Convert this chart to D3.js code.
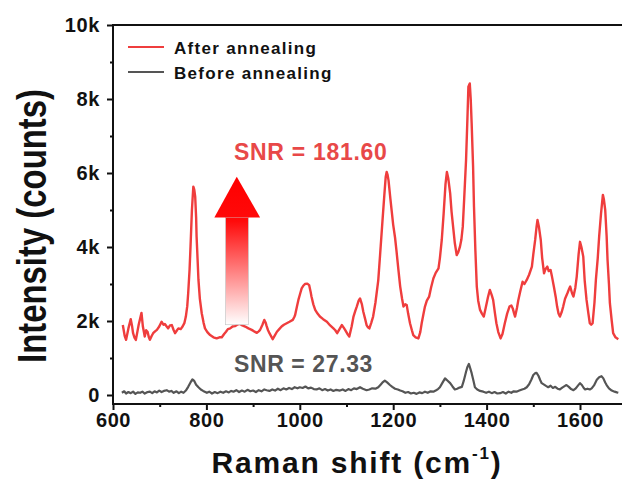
<!DOCTYPE html>
<html>
<head>
<meta charset="utf-8">
<script src="https://cdn.jsdelivr.net/npm/d3@7"></script>
<style>
  body { margin: 0; background: #fff; }
  svg { display: block; font-family: "Liberation Sans", Arial, sans-serif; font-weight: bold; }
</style>
</head>
<body>
<div id="chart"></div>
<script>
// spectra: [raman shift (cm-1), counts]
var afterSpectrum = [
  [621,1890],[625,1600],[628,1490],[633,1800],[638,2050],[641,1850],[643,1670],[646,1550],[649,1490],[655,1900],
  [661,2220],[664,1850],[668,1580],[671,1750],[674,1710],[677,1550],[679,1490],[683,1600],[686,1670],[690,1720],
  [694,1760],[699,1850],[704,1980],[708,1900],[711,1920],[715,1850],[718,1800],[722,1880],[726,1890],[730,1750],
  [733,1670],[737,1750],[740,1800],[745,1780],[749,1850],[753,1950],[756,2120],[759,2400],[761,2750],[764,3400],
  [766,4010],[769,5000],[772,5630],[774,5550],[776,5360],[778,4800],[779,4280],[781,3700],[783,3110],[786,2600],
  [790,2210],[794,1950],[797,1800],[802,1700],[808,1620],[815,1560],[822,1530],[828,1560],[833,1560],[838,1650],
  [842,1710],[846,1780],[851,1800],[856,1850],[861,1860],[866,1900],[872,1920],[877,1880],[883,1850],[890,1800],
  [897,1760],[902,1720],[908,1680],[912,1720],[915,1760],[920,1900],[924,2030],[927,1950],[929,1860],[932,1750],
  [935,1670],[939,1580],[942,1510],[946,1600],[951,1710],[956,1780],[961,1850],[966,1900],[972,1940],[978,1980],
  [985,2030],[988,2100],[990,2160],[994,2400],[997,2570],[1001,2750],[1004,2880],[1008,2960],[1011,3000],[1016,3010],
  [1020,2970],[1023,2800],[1025,2660],[1029,2450],[1033,2300],[1038,2200],[1043,2120],[1050,2050],[1058,1980],[1065,1880],
  [1072,1800],[1076,1750],[1080,1670],[1085,1780],[1090,1890],[1094,1820],[1097,1760],[1102,1650],[1106,1580],[1111,1850],
  [1115,2120],[1119,2280],[1122,2390],[1126,2550],[1129,2610],[1133,2450],[1136,2250],[1140,2050],[1143,1890],[1146,1830],
  [1149,1800],[1153,1950],[1157,2120],[1162,2500],[1168,3100],[1172,3800],[1177,4700],[1181,5400],[1184,5900],[1186,6030],
  [1188,5950],[1190,5800],[1194,5300],[1197,4950],[1200,4600],[1204,4250],[1207,3900],[1211,3400],[1215,2930],[1219,2600],
  [1222,2390],[1226,2450],[1229,2430],[1232,2200],[1236,1940],[1240,1750],[1243,1620],[1248,1560],[1254,1530],[1258,1700],
  [1261,1940],[1265,2200],[1268,2390],[1272,2550],[1277,2660],[1281,2900],[1286,3150],[1291,3300],[1297,3420],[1300,3700],
  [1304,4190],[1308,4900],[1312,5700],[1315,6030],[1318,5850],[1322,5450],[1325,4950],[1329,4460],[1332,4100],[1336,3780],
  [1339,3850],[1343,4010],[1346,4200],[1349,4550],[1352,5300],[1356,6350],[1359,7500],[1361,8330],[1364,8420],[1366,8000],
  [1368,7340],[1371,6200],[1373,5090],[1376,3900],[1379,2930],[1382,2550],[1386,2300],[1390,2200],[1394,2120],[1398,2350],
  [1403,2650],[1407,2840],[1411,2700],[1414,2570],[1418,2200],[1421,1940],[1425,1700],[1430,1530],[1434,1650],[1439,1940],
  [1444,2200],[1449,2390],[1453,2420],[1456,2340],[1459,2200],[1461,2120],[1465,2350],[1468,2570],[1472,2800],[1477,3060],
  [1481,3000],[1486,3110],[1491,3250],[1497,3470],[1500,3800],[1504,4190],[1507,4550],[1509,4730],[1512,4550],[1516,4190],
  [1519,3700],[1523,3290],[1526,3400],[1530,3470],[1533,3350],[1537,3380],[1540,3200],[1544,2930],[1548,2650],[1551,2390],
  [1554,2200],[1557,2120],[1561,2250],[1564,2390],[1568,2600],[1573,2750],[1576,2850],[1579,2930],[1583,2750],[1586,2660],
  [1590,2900],[1593,3200],[1597,3800],[1600,4140],[1603,4000],[1607,3740],[1610,3100],[1614,2570],[1618,2200],[1621,1940],
  [1624,1900],[1627,1940],[1631,2500],[1634,3110],[1638,3700],[1641,4280],[1645,4900],[1649,5410],[1651,5300],[1654,5000],
  [1657,4300],[1659,3650],[1662,3000],[1664,2480],[1668,2000],[1671,1670],[1676,1560],[1682,1510]
];

var beforeSpectrum = [
  [619,60],[624,100],[628,40],[633,80],[638,50],[643,90],[648,30],[653,70],[658,60],[663,90],
  [668,40],[674,80],[679,90],[684,50],[689,100],[694,70],[699,120],[704,80],[709,110],[715,130],
  [720,90],[725,110],[730,60],[736,100],[741,50],[746,90],[751,60],[756,120],[761,220],[766,340],
  [770,420],[774,380],[778,280],[783,210],[788,150],[793,110],[801,60],[806,90],[812,40],[818,80],
  [824,50],[830,90],[836,60],[842,100],[848,70],[853,110],[858,90],[864,130],[870,80],[876,120],
  [882,90],[888,140],[894,100],[900,120],[906,80],[912,130],[918,100],[924,150],[929,130],[935,110],
  [941,150],[947,120],[953,170],[959,130],[965,180],[971,150],[977,190],[983,160],[989,210],[995,180],
  [1000,210],[1006,190],[1012,230],[1018,180],[1024,200],[1030,160],[1036,150],[1042,180],[1048,130],[1054,160],
  [1060,120],[1066,150],[1072,110],[1078,140],[1086,120],[1092,150],[1098,110],[1104,160],[1110,130],[1116,180],
  [1122,160],[1129,210],[1135,170],[1143,130],[1149,150],[1155,180],[1162,170],[1168,210],[1173,280],[1178,350],
  [1182,390],[1187,340],[1193,270],[1198,220],[1204,170],[1210,150],[1215,120],[1220,100],[1226,60],[1232,80],
  [1238,40],[1244,60],[1250,30],[1256,70],[1262,50],[1268,90],[1274,60],[1280,100],[1286,90],[1292,130],
  [1296,160],[1300,210],[1305,320],[1311,450],[1316,390],[1322,320],[1327,230],[1332,150],[1337,170],[1342,200],
  [1347,220],[1351,380],[1356,630],[1359,760],[1362,840],[1365,720],[1368,590],[1372,380],[1375,210],[1380,150],
  [1386,110],[1393,90],[1399,60],[1405,90],[1411,50],[1417,80],[1423,40],[1429,50],[1435,80],[1441,40],
  [1447,90],[1453,60],[1458,100],[1464,90],[1470,120],[1476,150],[1481,170],[1486,210],[1491,290],[1496,420],
  [1500,540],[1504,590],[1507,600],[1511,520],[1515,400],[1518,320],[1523,280],[1528,240],[1532,210],[1537,250],
  [1542,190],[1547,220],[1552,170],[1557,150],[1562,200],[1567,240],[1571,270],[1576,220],[1581,160],[1586,130],
  [1591,180],[1596,260],[1600,320],[1604,270],[1608,190],[1611,150],[1616,170],[1621,150],[1625,180],[1630,260],
  [1636,410],[1641,480],[1646,510],[1650,450],[1654,340],[1657,270],[1662,180],[1668,120],[1674,90],[1679,70],
  [1682,60]
];

var xTicks = [600, 800, 1000, 1200, 1400, 1600];
var xMinorTicks = [700, 900, 1100, 1300, 1500];
var yTicks = [0, 2000, 4000, 6000, 8000, 10000];
var yMinorTicks = [1000, 3000, 5000, 7000, 9000];
var seriesNames = ["After annealing", "Before annealing"];
var snrLabels = ["SNR = 181.60", "SNR = 27.33"];

var W = 622, H = 485;
var red = "#ef3d3d", grey = "#555555";

var svg = d3.select("#chart").append("svg")
  .attr("width", W).attr("height", H);

var x = d3.scaleLinear().domain([600, 1700]).range([113, 626.7]);
var y = d3.scaleLinear().domain([-250, 10000]).range([404.25, 25]);

// arrow gradient
var defs = svg.append("defs");
var grad = defs.append("linearGradient").attr("id", "arrowGrad")
  .attr("gradientUnits", "userSpaceOnUse")
  .attr("x1", 0).attr("x2", 0)
  .attr("y1", y(5900)).attr("y2", y(1900));
grad.append("stop").attr("offset", "0%").attr("stop-color", "#ff0000");
grad.append("stop").attr("offset", "30%").attr("stop-color", "#ff0a0a");
grad.append("stop").attr("offset", "100%").attr("stop-color", "#ffffff");

// spectra
var line = d3.line().x(d => x(d[0])).y(d => y(d[1]));
svg.append("path").datum(beforeSpectrum)
  .attr("d", line).attr("fill", "none")
  .attr("stroke", grey).attr("stroke-width", 2.2).attr("stroke-linejoin", "round");
svg.append("path").datum(afterSpectrum)
  .attr("d", line).attr("fill", "none")
  .attr("stroke", red).attr("stroke-width", 2.4).attr("stroke-linejoin", "round");

// arrow (shaft + head)
svg.append("rect")
  .attr("x", x(841)).attr("y", y(4800))
  .attr("width", x(890) - x(841)).attr("height", y(1900) - y(4800))
  .attr("fill", "url(#arrowGrad)").attr("stroke", "#c8c8c8").attr("stroke-width", 0.7);
svg.append("path")
  .attr("d", "M" + x(817) + "," + y(4800) + "L" + x(865) + "," + y(5900) + "L" + x(915) + "," + y(4800) + "Z")
  .attr("fill", "url(#arrowGrad)");

// axes
var yAxis = d3.axisLeft(y).tickValues(yTicks).tickSize(6).tickPadding(7)
  .tickFormat(d => d == 0 ? "0" : (d / 1000) + "k");
var gy = svg.append("g").attr("transform", "translate(113,0)").call(yAxis);
var yMinor = d3.axisLeft(y).tickValues(yMinorTicks).tickSize(3).tickFormat("");
var gym = svg.append("g").attr("transform", "translate(113,0)").call(yMinor);

var xAxis = d3.axisBottom(x).tickValues(xTicks).tickSize(6).tickPadding(3).tickFormat(d3.format("d"));
var gx = svg.append("g").attr("transform", "translate(0,404)").call(xAxis);
var xMinor = d3.axisBottom(x).tickValues(xMinorTicks).tickSize(3).tickFormat("");
var gxm = svg.append("g").attr("transform", "translate(0,404)").call(xMinor);

[gy, gym, gx, gxm].forEach(function(g) {
  g.select(".domain").remove();
  g.selectAll("line").attr("stroke", "#111").attr("stroke-width", 2);
  g.selectAll("text").attr("fill", "#111").style("font-size", "20px")
    .style("font-weight", "bold").style("letter-spacing", "0.6px");
});

// frame lines
svg.append("line").attr("x1", 113).attr("x2", W).attr("y1", 404).attr("y2", 404)
  .attr("stroke", "#111").attr("stroke-width", 2);
svg.append("line").attr("x1", 113).attr("x2", W).attr("y1", 25).attr("y2", 25)
  .attr("stroke", "#111").attr("stroke-width", 2);
svg.append("line").attr("x1", 113).attr("x2", 113).attr("y1", 24).attr("y2", 405)
  .attr("stroke", "#111").attr("stroke-width", 2);

// axis titles
var xt = svg.append("text")
  .attr("x", 357).attr("y", 473)
  .attr("text-anchor", "middle")
  .attr("fill", "#111").style("font-size", "30px").style("letter-spacing", "1.8px");
xt.append("tspan").text("Raman shift (cm");
xt.append("tspan").attr("dy", -14).style("font-size", "17px").text("-1");
xt.append("tspan").attr("dy", 14).text(")");

svg.append("text")
  .attr("transform", "translate(46,226) rotate(-90)")
  .attr("text-anchor", "middle")
  .attr("textLength", 274).attr("lengthAdjust", "spacingAndGlyphs")
  .attr("fill", "#111").style("font-size", "41px")
  .text("Intensity (counts)");

// legend
var legend = svg.append("g");
legend.selectAll("line").data(seriesNames).enter().append("line")
  .attr("x1", 128).attr("x2", 164)
  .attr("y1", (d, i) => 47 + i * 25).attr("y2", (d, i) => 47 + i * 25)
  .attr("stroke", (d, i) => i == 0 ? red : grey).attr("stroke-width", 2);
legend.selectAll("text").data(seriesNames).enter().append("text")
  .attr("x", 174).attr("y", (d, i) => 54 + i * 25)
  .attr("fill", "#111").style("font-size", "17px").style("letter-spacing", "1.3px")
  .text(d => d);

// SNR labels
svg.append("text").attr("x", 234).attr("y", 160)
  .attr("fill", "#e84848").style("font-size", "23px").style("letter-spacing", "0.7px")
  .text(snrLabels[0]);
svg.append("text").attr("x", 234).attr("y", 372)
  .attr("fill", "#555").style("font-size", "23px").style("letter-spacing", "0.6px")
  .text(snrLabels[1]);
</script>
</body>
</html>
